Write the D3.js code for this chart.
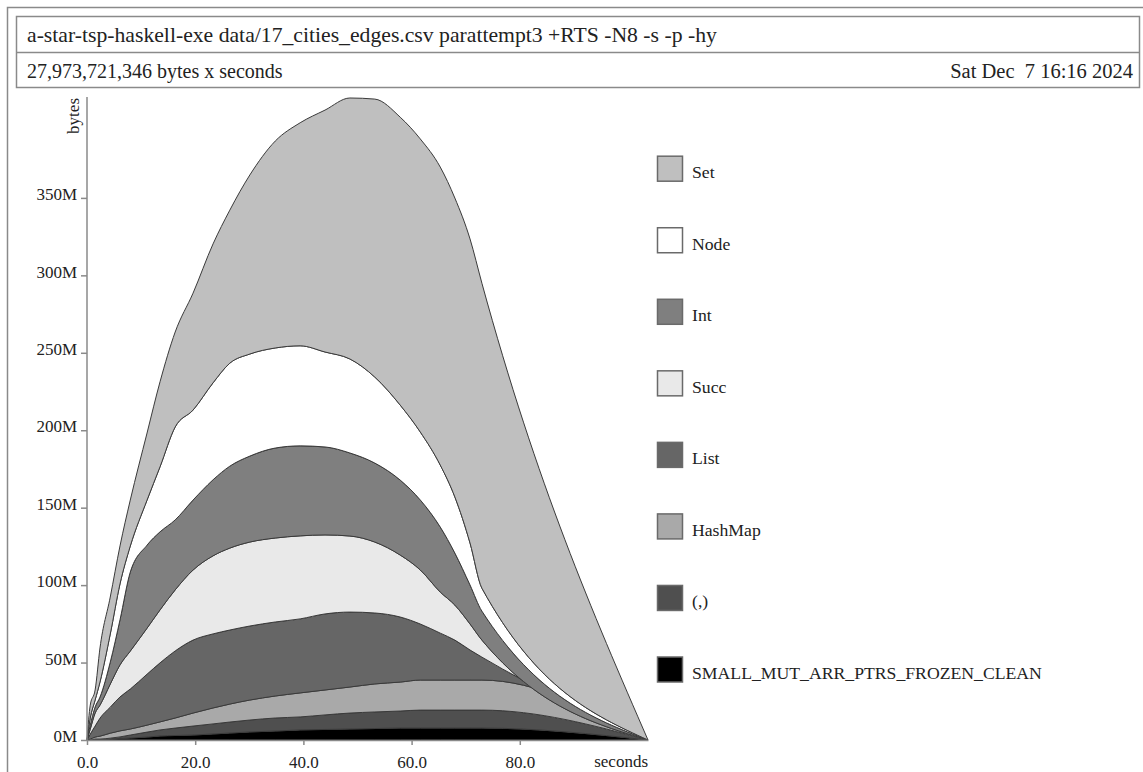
<!DOCTYPE html>
<html>
<head>
<meta charset="utf-8">
<script src="https://cdn.jsdelivr.net/npm/d3@7"></script>
<style>
  body { margin: 0; background: #fff; }
  svg { display: block; font-family: "Liberation Serif", "Times New Roman", serif; }
</style>
</head>
<body>
<div id="chart"></div>
<script>
"use strict";

// sample times (seconds)
const times = [0, 0.6, 1.5, 2.4, 4.3, 6.1, 8.0, 11.1, 13.5, 16.3, 19.6, 23.3, 26.4, 30.1,
  34.8, 39.4, 44.0, 48.6, 53.2, 57.9, 61.6, 65.3, 68.0, 70.8, 73.0, 103.7];

// heap per closure type, in millions of bytes
const smallMut = [0, 0, 0, 0.3, 0.6, 1.0, 1.3, 1.9, 2.6, 2.9, 3.2, 3.9, 4.5, 5.2,
  5.8, 6.5, 6.8, 7.1, 7.4, 7.7, 7.7, 7.7, 7.7, 7.7, 7.7, 0];
const tuple = [0, 0, 0.6, 0.3, 0.6, 1.0, 1.9, 3.2, 3.9, 4.8, 5.8, 6.5, 7.1, 7.7,
  8.4, 8.4, 9.4, 10.3, 10.7, 11.0, 11.6, 11.6, 11.6, 11.6, 11.6, 0];
const hashMap = [0, 0.6, 1.3, 1.9, 3.2, 3.9, 3.9, 4.5, 5.2, 6.5, 8.4, 10.3, 11.6, 12.9,
  14.2, 15.5, 16.1, 16.8, 18.1, 18.7, 19.4, 19.4, 19.4, 19.4, 19.4, 0];
const list = [0, 3.2, 7.1, 11.6, 16.8, 21.9, 25.8, 32.9, 38.1, 43.3, 47.1, 47.8, 47.8, 47.8,
  47.8, 47.8, 49.1, 48.4, 45.8, 42.0, 36.2, 30.3, 25.8, 19.4, 14.8, 0];
const succ = [0, 3.2, 8.4, 8.4, 14.9, 20.7, 24.5, 29.7, 34.2, 39.4, 45.2, 50.4, 52.9, 54.2,
  54.2, 53.6, 51.0, 49.1, 45.8, 40.0, 34.9, 26.5, 22.6, 16.8, 11.0, 0];
const intVals = [0, 2.6, 3.9, 5.2, 14.2, 29.1, 51.0, 53.6, 50.4, 45.2, 45.2, 49.1, 52.9, 55.5,
  58.1, 58.1, 56.8, 53.6, 51.0, 48.4, 45.2, 42.0, 33.6, 25.2, 18.7, 0];
const node = [0, 4.5, 4.5, 9.7, 18.1, 23.2, 16.8, 29.1, 42.0, 60.0, 58.1, 62.6, 66.5, 65.9,
  64.6, 64.6, 61.3, 60.7, 55.5, 48.4, 43.9, 40.0, 36.2, 27.1, 14.8, 0];
const setVals = [0, 8.4, 6.5, 22.0, 23.9, 24.5, 29.7, 43.3, 54.9, 61.3, 75.5, 89.7, 98.8, 115.6,
  133.6, 144.0, 156.2, 168.5, 179.5, 185.9, 189.2, 192.4, 193.0, 196.3, 196.9, 0];

// stacking order, bottom first
const bandNames = ["SMALL_MUT_ARR_PTRS_FROZEN_CLEAN", "(,)", "HashMap", "List", "Succ", "Int", "Node", "Set"];
const bandValues = [smallMut, tuple, hashMap, list, succ, intVals, node, setVals];
const bandColors = ["#000000", "#4f4f4f", "#a9a9a9", "#666666", "#e9e9e9", "#7f7f7f", "#ffffff", "#bfbfbf"];

const xTicks = [0, 20, 40, 60, 80];
const yTicks = [0, 50, 100, 150, 200, 250, 300, 350];

const titleText = "a-star-tsp-haskell-exe data/17_cities_edges.csv parattempt3 +RTS -N8 -s -p -hy";
const totalText = "27,973,721,346 bytes x seconds";
const dateText = "Sat Dec  7 16:16 2024";

const width = 1143, height = 772;

const rows = times.map(function(t, i) {
  let r = { t: t };
  bandNames.forEach(function(n, k) { r[n] = bandValues[k][i]; });
  return r;
});

const svg = d3.select("#chart").append("svg")
  .attr("width", width)
  .attr("height", height);

// outer frame and header boxes
svg.append("rect")
  .attr("x", 7.5).attr("y", 7.5)
  .attr("width", 1150).attr("height", 790)
  .attr("fill", "none").attr("stroke", "#8a8a8a").attr("stroke-width", 1.5);

svg.append("rect")
  .attr("x", 16.5).attr("y", 16.5)
  .attr("width", 1123).attr("height", 71)
  .attr("fill", "none").attr("stroke", "#8a8a8a").attr("stroke-width", 1.5);
svg.append("line")
  .attr("x1", 16.5).attr("x2", 1139.5)
  .attr("y1", 52.5).attr("y2", 52.5)
  .attr("stroke", "#8a8a8a").attr("stroke-width", 1.5);

svg.append("text")
  .attr("x", 27).attr("y", 42)
  .attr("font-size", 21.7).attr("fill", "#222")
  .text(titleText);
svg.append("text")
  .attr("x", 27).attr("y", 78)
  .attr("font-size", 20).attr("fill", "#222")
  .text(totalText);
svg.append("text")
  .attr("x", 1133).attr("y", 78)
  .attr("font-size", 20.5).attr("fill", "#222")
  .attr("text-anchor", "end")
  .style("white-space", "pre")
  .text(dateText);

// scales
const x = d3.scaleLinear().domain([0, 103.7]).range([87, 648]);
const y = d3.scaleLinear().domain([0, 350]).range([740, 197.9]);

const stack = d3.stack().keys(bandNames);
const series = stack(rows);

const area = d3.area()
  .curve(d3.curveMonotoneX)
  .x(function(d) { return x(d.data.t); })
  .y0(function(d) { return y(d[0]); })
  .y1(function(d) { return y(d[1]); });

svg.append("g").selectAll("path")
  .data(series)
  .enter().append("path")
    .attr("d", area)
    .attr("fill", function(d, i) { return bandColors[i]; })
    .attr("stroke", "#3a3a3a")
    .attr("stroke-width", 1)
    .attr("stroke-linejoin", "round");

// axes
const xAxis = d3.axisBottom(x)
  .tickValues(xTicks)
  .tickSize(5)
  .tickSizeOuter(0)
  .tickFormat(d3.format(".1f"));

const gx = svg.append("g")
  .attr("transform", "translate(0,740)")
  .call(xAxis);
gx.select(".domain").attr("stroke", "#8a8a8a").attr("stroke-width", 1.5);
gx.selectAll(".tick line").attr("stroke", "#8a8a8a").attr("stroke-width", 1.5);
gx.selectAll(".tick text")
  .attr("y", 15).attr("dy", "0.75em")
  .attr("font-size", 17).attr("fill", "#222")
  .attr("font-family", "Liberation Serif, Times New Roman, serif");

const yAxis = d3.axisLeft(y)
  .tickValues(yTicks)
  .tickSize(6)
  .tickSizeOuter(0)
  .tickFormat(function(d) { return d + "M"; });

const gy = svg.append("g")
  .attr("transform", "translate(87,0)")
  .call(yAxis);
gy.select(".domain").attr("d", "M0," + y(0) + "V97").attr("stroke", "#8a8a8a").attr("stroke-width", 1.5);
gy.selectAll(".tick line").attr("stroke", "#8a8a8a").attr("stroke-width", 1.5);
gy.selectAll(".tick text")
  .attr("x", -10).attr("dy", "0.1em")
  .attr("font-size", 17).attr("fill", "#222")
  .attr("font-family", "Liberation Serif, Times New Roman, serif");

svg.append("text")
  .attr("transform", "translate(79,98) rotate(-90)")
  .attr("text-anchor", "end")
  .attr("font-size", 17).attr("fill", "#222")
  .text("bytes");

svg.append("text")
  .attr("x", 648).attr("y", 767)
  .attr("text-anchor", "end")
  .attr("font-size", 17).attr("fill", "#222")
  .text("seconds");

// legend, top band first
const legendNames = bandNames.slice().reverse();
const legendColors = bandColors.slice().reverse();
const legendY = d3.scalePoint().domain(legendNames).range([168.7, 669.5]);

const legend = svg.append("g").selectAll("g")
  .data(legendNames)
  .enter().append("g")
    .attr("transform", function(d) { return "translate(657," + legendY(d) + ")"; });

legend.append("rect")
  .attr("x", 0.5).attr("y", -12.5)
  .attr("width", 25).attr("height", 25)
  .attr("fill", function(d, i) { return legendColors[i]; })
  .attr("stroke", "#6a6a6a")
  .attr("stroke-width", 1.5);

legend.append("text")
  .attr("x", 35).attr("y", 9.5)
  .attr("font-size", 17.7).attr("fill", "#222")
  .text(function(d) { return d; });
</script>
</body>
</html>
